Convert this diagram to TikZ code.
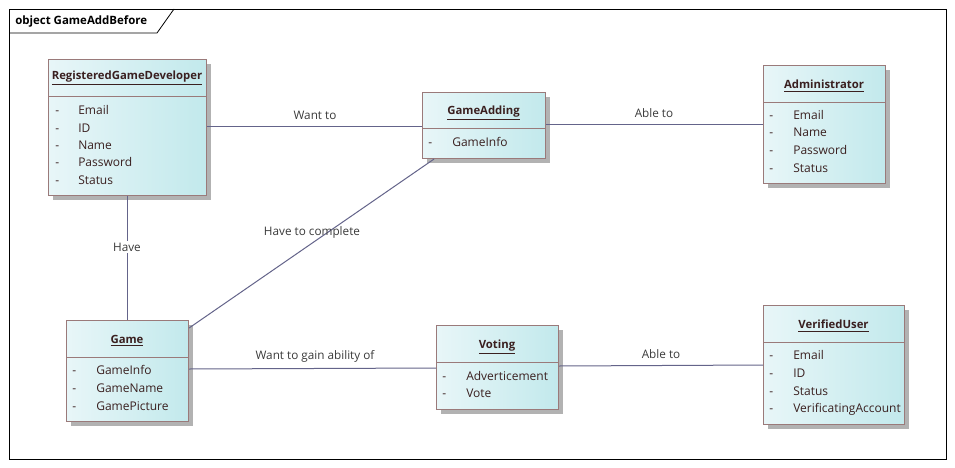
\documentclass[tikz,border=0pt]{standalone}
\usepackage{fontspec}
\setmainfont{Open Sans}
\usetikzlibrary{shadows}
\definecolor{linec}{HTML}{64648A}
\definecolor{boxb}{HTML}{9A7A7A}
\definecolor{txt}{HTML}{3A2020}
\definecolor{lblc}{HTML}{3A3A3A}
\definecolor{fillL}{HTML}{E8F6F8}
\definecolor{fillR}{HTML}{C2E9EC}
\tikzset{
 cls/.style 2 args={draw=boxb, line width=0.8pt, left color=fillL, right color=fillR,
   drop shadow={fill=black!30, shadow xshift=3pt, shadow yshift=-3pt, opacity=1},
   anchor=north west, inner sep=0, minimum width=#1*0.75pt, minimum height=#2*0.75pt},
 ttl/.style={font=\bfseries\fontsize{8.5}{10}\selectfont, text=txt, inner sep=0},
 att/.style={font=\fontsize{9}{10}\selectfont, text=txt, anchor=west, inner sep=0,
   text height=1.5ex, text depth=0.25ex},
 conn/.style={draw=linec, line width=0.75pt},
 sep/.style={draw=boxb, line width=0.75pt},
 lbl/.style={font=\fontsize{8.8}{10}\selectfont, text=lblc, inner sep=0}
}
\begin{document}
\begin{tikzpicture}[x=0.75pt,y=-0.75pt]
\useasboundingbox (0,0) rectangle (955,467);
\fill[white] (0,0) rectangle (955,467);
% frame
\draw[black, line width=0.6pt] (9,9) rectangle (946,459);
\draw[black, line width=0.6pt] (9,33) -- (157,33) -- (174,9);
\node[anchor=west, inner sep=0, font=\bfseries\fontsize{8.6}{10}\selectfont] (frametitle) at (15,21) {object GameAddBefore};

% RegisteredGameDeveloper
\node[cls={158}{136}] (rgd) at (48,59) {};
\draw[sep] (rgd.west |- 0,96) -- (rgd.east |- 0,96);
\node[ttl] (rgdt) at (127,78) {\underline{RegisteredGameDeveloper}};
\foreach \t/\y [count=\i] in {Email/110, ID/128, Name/145, Password/162, Status/180}{
  \node[att] (rgdd\i) at (55,\y) {-};
  \node[att] (rgda\i) at (78,\y) {\t};
}

% GameAdding
\node[cls={123}{66}] (ga) at (422,92) {};
\draw[sep] (ga.west |- 0,128) -- (ga.east |- 0,128);
\node[ttl] (gat) at (483.5,113) {\underline{GameAdding}};
\node[att] (gad1) at (428,142) {-};
\node[att] (gaa1) at (452,142) {GameInfo};

% Administrator
\node[cls={122}{118}] (adm) at (763,65) {};
\draw[sep] (adm.west |- 0,102) -- (adm.east |- 0,102);
\node[ttl] (admt) at (824,86) {\underline{Administrator}};
\foreach \t/\y [count=\i] in {Email/115, Name/132, Password/150, Status/168}{
  \node[att] (admd\i) at (769,\y) {-};
  \node[att] (adma\i) at (793,\y) {\t};
}

% Game
\node[cls={122}{101}] (game) at (66,320) {};
\draw[sep] (game.west |- 0,357) -- (game.east |- 0,357);
\node[ttl] (gamet) at (127,341) {\underline{Game}};
\foreach \t/\y [count=\i] in {GameInfo/370, GameName/388, GamePicture/406}{
  \node[att] (gamed\i) at (72,\y) {-};
  \node[att] (gamea\i) at (96,\y) {\t};
}

% Voting
\node[cls={122}{84}] (vot) at (436,325) {};
\draw[sep] (vot.west |- 0,362) -- (vot.east |- 0,362);
\node[ttl] (vott) at (497,347) {\underline{Voting}};
\foreach \t/\y [count=\i] in {Adverticement/376, Vote/393}{
  \node[att] (votd\i) at (442,\y) {-};
  \node[att] (vota\i) at (466,\y) {\t};
}

% VerifiedUser
\node[cls={141}{119}] (vu) at (763,305) {};
\draw[sep] (vu.west |- 0,342) -- (vu.east |- 0,342);
\node[ttl] (vut) at (833.5,326) {\underline{VerifiedUser}};
\foreach \t/\y [count=\i] in {Email/355, ID/373, Status/391, VerificatingAccount/408}{
  \node[att] (vud\i) at (769,\y) {-};
  \node[att] (vua\i) at (793,\y) {\t};
}

% connectors
\draw[conn] (rgd.east |- 0,126) -- (ga.west |- 0,126);
\node[lbl] (l1) at (315,115) {Want to};
\draw[conn] (ga.east |- 0,124) -- (adm.west |- 0,124);
\node[lbl] (l2) at (654,113) {Able to};
\draw[conn] (rgd.south -| 127,0) -- (game.north -| 127,0);
\node[lbl, fill=white, inner sep=1.5pt] (l3) at (127,247) {Have};
\draw[conn] (game.east |- 0,328) -- (ga.south -| 434,0);
\node[lbl] (l4) at (312,232) {Have to complete};
\draw[conn] (game.east |- 0,369) -- (vot.west |- 0,368);
\node[lbl] (l5) at (315,356) {Want to gain ability of};
\draw[conn] (vot.east |- 0,366) -- (vu.west |- 0,365);
\node[lbl] (l6) at (661,354) {Able to};
\end{tikzpicture}
\end{document}
